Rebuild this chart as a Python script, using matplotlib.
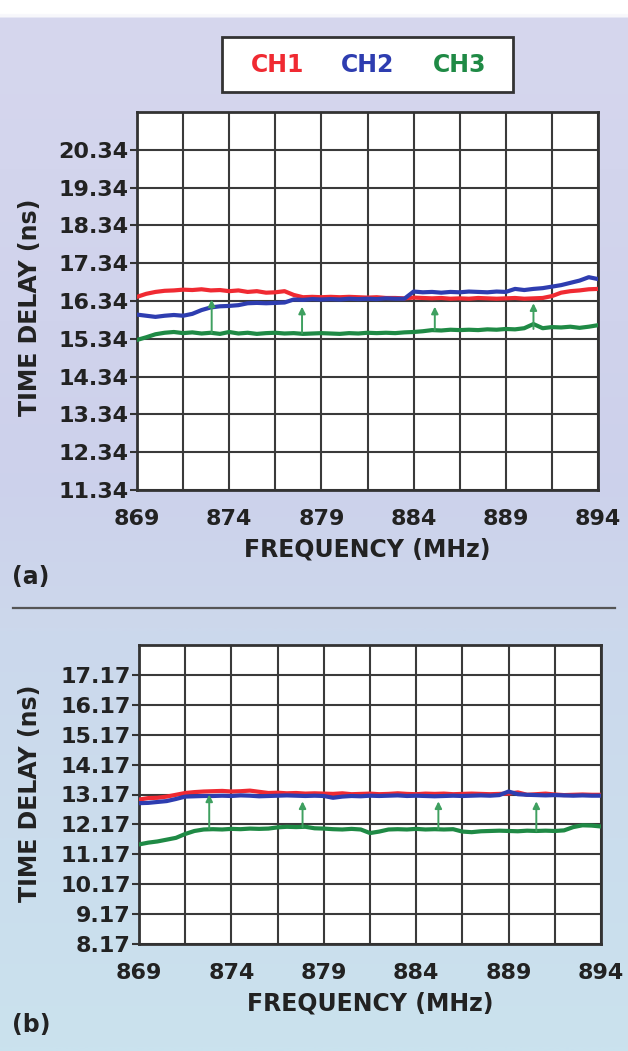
import numpy as np
import matplotlib
matplotlib.use("Agg")
import matplotlib.pyplot as plt
from matplotlib.colors import LinearSegmentedColormap

# ---------------- data ----------------
freq_ticks = [869, 874, 879, 884, 889, 894]
freq = [869 + 0.5 * k for k in range(51)]

# Panel (a)
a_yticks = [11.34, 12.34, 13.34, 14.34, 15.34, 16.34, 17.34, 18.34, 19.34, 20.34]
a_ch1 = [16.45, 16.53, 16.58, 16.61, 16.62, 16.64, 16.63, 16.65, 16.62, 16.63,
         16.60, 16.62, 16.58, 16.60, 16.56, 16.57, 16.60, 16.50, 16.44, 16.45,
         16.44, 16.45, 16.44, 16.45, 16.44, 16.43, 16.44, 16.42, 16.42, 16.41,
         16.43, 16.42, 16.41, 16.42, 16.40, 16.41, 16.40, 16.42, 16.41, 16.40,
         16.41, 16.42, 16.40, 16.41, 16.42, 16.47, 16.56, 16.60, 16.62, 16.65,
         16.66]
a_ch2 = [15.98, 15.95, 15.92, 15.95, 15.97, 15.95, 16.00, 16.10, 16.17, 16.20,
         16.21, 16.23, 16.28, 16.29, 16.28, 16.29, 16.30, 16.38, 16.37, 16.39,
         16.38, 16.39, 16.38, 16.40, 16.39, 16.40, 16.39, 16.41, 16.40, 16.40,
         16.59, 16.57, 16.58, 16.56, 16.58, 16.57, 16.59, 16.58, 16.57, 16.59,
         16.58, 16.66, 16.63, 16.66, 16.68, 16.72, 16.76, 16.82, 16.88, 16.97,
         16.92]
a_ch3 = [15.31, 15.38, 15.46, 15.50, 15.52, 15.49, 15.51, 15.48, 15.50, 15.47,
         15.52, 15.48, 15.50, 15.47, 15.49, 15.50, 15.48, 15.49, 15.47, 15.48,
         15.49, 15.48, 15.47, 15.49, 15.48, 15.50, 15.49, 15.50, 15.49, 15.51,
         15.52, 15.54, 15.57, 15.56, 15.58, 15.57, 15.58, 15.57, 15.59, 15.58,
         15.60, 15.59, 15.62, 15.73, 15.62, 15.65, 15.64, 15.66, 15.63, 15.66,
         15.70]
a_arrow_f = [873.05, 877.95, 885.15, 890.5]
a_arrow_base = [15.50, 15.49, 15.57, 15.60]
a_arrow_top = [16.38, 16.19, 16.19, 16.28]

# Panel (b)
b_yticks = [8.17, 9.17, 10.17, 11.17, 12.17, 13.17, 14.17, 15.17, 16.17, 17.17]
b_ch1 = [13.00, 13.05, 13.06, 13.10, 13.16, 13.22, 13.25, 13.27, 13.28, 13.29,
         13.27, 13.28, 13.30, 13.26, 13.22, 13.23, 13.21, 13.22, 13.20, 13.21,
         13.20, 13.19, 13.21, 13.18, 13.19, 13.20, 13.18, 13.19, 13.21, 13.19,
         13.18, 13.20, 13.19, 13.20, 13.18, 13.19, 13.20, 13.19, 13.18, 13.19,
         13.20, 13.24, 13.16, 13.18, 13.20, 13.17, 13.15, 13.16, 13.17, 13.16,
         13.16]
b_ch2 = [12.88, 12.89, 12.92, 12.95, 13.02, 13.10, 13.11, 13.12, 13.12, 13.13,
         13.12, 13.14, 13.13, 13.11, 13.12, 13.13, 13.14, 13.13, 13.12, 13.13,
         13.12, 13.06, 13.10, 13.12, 13.11, 13.13, 13.12, 13.13, 13.14, 13.12,
         13.13, 13.12, 13.11, 13.12, 13.13, 13.12, 13.13, 13.14, 13.13, 13.15,
         13.27, 13.18, 13.16, 13.15, 13.14, 13.15, 13.14, 13.13, 13.14, 13.13,
         13.13]
b_ch3 = [11.50, 11.56, 11.60, 11.66, 11.72, 11.85, 11.95, 12.00, 12.01, 12.00,
         12.02, 12.01, 12.03, 12.02, 12.03, 12.07, 12.09, 12.08, 12.09, 12.04,
         12.03, 12.01, 12.00, 12.02, 12.00, 11.88, 11.93, 12.00, 12.01, 12.00,
         12.02, 12.00, 12.01, 12.00, 12.01, 11.93, 11.91, 11.94, 11.95, 11.96,
         11.95, 11.94, 11.96, 11.95, 11.96, 11.95, 11.97, 12.08, 12.14, 12.13,
         12.10]
b_arrow_f = [872.8, 877.85, 885.2, 890.5]
b_arrow_base = [12.02, 12.08, 12.01, 11.95]
b_arrow_top = [13.17, 12.94, 12.94, 12.94]

legend_labels = ["CH1", "CH2", "CH3"]
colors = ["#F02A32", "#2E3DB0", "#1F8A45"]
arrow_color = "#3FA060"

# ---------------- figure ----------------
W, H = 628, 1051
fig = plt.figure(figsize=(W / 100, H / 100), dpi=100)

# background gradient
bg = fig.add_axes([0, 0, 1, 1], zorder=-10)
bg.set_axis_off()
cmap = LinearSegmentedColormap.from_list(
    "bg", [(0.0, "#ffffff"), (0.011, "#ffffff"), (0.015, "#d6d7ee"),
           (0.45, "#cdd1eb"), (0.6, "#ccd8ec"), (1.0, "#cae2ee")])
grad = np.linspace(0, 1, 600).reshape(-1, 1)
bg.imshow(grad, aspect="auto", cmap=cmap, extent=[0, 1, 0, 1], origin="upper")
bg.set_xlim(0, 1)
bg.set_ylim(0, 1)

# separator line
bg.plot([13 / W, 615 / W], [1 - 608 / H, 1 - 608 / H], color="#555555", lw=1.6)

FONT = "DejaVu Sans"
TXT = "#222222"


def make_panel(rect, yticks, ch1, ch2, ch3, af, ab, at, label, label_y, ylab_y):
    ax = fig.add_axes(rect)
    ax.set_facecolor("white")
    ymin = yticks[0]
    ymax = yticks[-1] + 1.0
    ax.set_xlim(869, 894)
    ax.set_ylim(ymin, ymax)
    xt = np.arange(869, 894.01, 2.5)
    ax.set_xticks(xt)
    ax.set_xticklabels([str(int(v)) if v in freq_ticks else "" for v in xt])
    ax.set_yticks(yticks)
    ax.set_yticklabels([f"{v:.2f}" for v in yticks])
    ax.grid(True, color="#3a3a3a", lw=1.5)
    ax.set_axisbelow(True)
    for s in ax.spines.values():
        s.set_color("#333333")
        s.set_linewidth(2.0)
    ax.tick_params(axis="x", length=0, pad=14)
    ax.tick_params(axis="y", length=5, width=1.5, color="#333333", pad=1)
    for t in ax.get_xticklabels() + ax.get_yticklabels():
        t.set_fontsize(16)
        t.set_fontweight("bold")
        t.set_color(TXT)
        t.set_family(FONT)
    ax.plot(freq, ch1, color=colors[0], lw=3.0, zorder=3, solid_joinstyle="round")
    ax.plot(freq, ch2, color=colors[1], lw=3.0, zorder=4, solid_joinstyle="round")
    ax.plot(freq, ch3, color=colors[2], lw=3.0, zorder=4, solid_joinstyle="round")
    for f, b, t in zip(af, ab, at):
        ax.annotate("", xy=(f, t), xytext=(f, b),
                    arrowprops=dict(arrowstyle="-|>", color=arrow_color, lw=1.4,
                                    mutation_scale=10, shrinkA=0, shrinkB=0),
                    zorder=5)
    ax.set_xlabel("FREQUENCY (MHz)", fontsize=17, fontweight="bold", color=TXT,
                  family=FONT, labelpad=6)
    fig.text(30 / W, 1 - ylab_y / H, "TIME DELAY (ns)", rotation=90, ha="center",
             va="center", fontsize=17, fontweight="bold", color=TXT, family=FONT)
    fig.text(12 / W, 1 - label_y / H, label, ha="left", va="center", fontsize=17,
             fontweight="bold", color=TXT, family=FONT)
    return ax


make_panel([137 / W, 1 - 490 / H, 461 / W, 378 / H], a_yticks, a_ch1, a_ch2, a_ch3,
           a_arrow_f, a_arrow_base, a_arrow_top, "(a)", 577, 307)
make_panel([139 / W, 1 - 944 / H, 462 / W, 299 / H], b_yticks, b_ch1, b_ch2, b_ch3,
           b_arrow_f, b_arrow_base, b_arrow_top, "(b)", 1025, 793)

# legend box
lx0, lx1, ly0, ly1 = 222, 513, 37, 92
bg.add_patch(plt.Rectangle((lx0 / W, 1 - ly1 / H), (lx1 - lx0) / W, (ly1 - ly0) / H,
                           facecolor="white", edgecolor="#333333", lw=2.0))
for lab, col, cx in zip(legend_labels, colors, [278, 368, 460]):
    fig.text(cx / W, 1 - 65 / H, lab, ha="center", va="center", fontsize=17,
             fontweight="bold", color=col, family=FONT)

fig.savefig("out.png", dpi=100)
